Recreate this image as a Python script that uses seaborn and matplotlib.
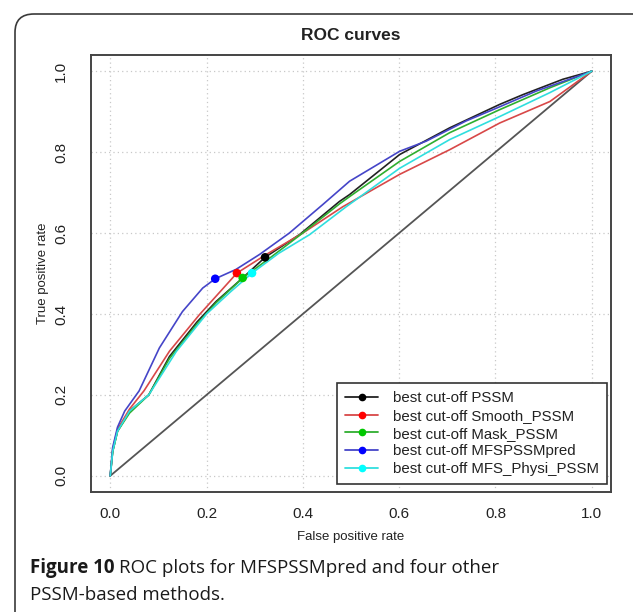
import numpy as np
import pandas as pd
import matplotlib
matplotlib.use("Agg")
import matplotlib.pyplot as plt
import seaborn as sns
from matplotlib.lines import Line2D
from matplotlib.patches import FancyBboxPatch

# ---------------- data ----------------
methods = ["PSSM", "Smooth_PSSM", "Mask_PSSM", "MFSPSSMpred", "MFS_Physi_PSSM"]

fpr_pssm = [0, 0.005, 0.015, 0.04, 0.08, 0.123, 0.18, 0.22, 0.275, 0.3215, 0.393, 0.476, 0.497, 0.601, 0.705, 0.809, 0.857, 0.94, 1.0]
tpr_pssm = [0, 0.06, 0.11, 0.16, 0.2, 0.295, 0.38, 0.431, 0.489, 0.54, 0.596, 0.678, 0.695, 0.794, 0.86, 0.918, 0.942, 0.98, 1.0]

fpr_smooth = [0, 0.005, 0.015, 0.04, 0.07, 0.123, 0.185, 0.263, 0.324, 0.40, 0.483, 0.601, 0.705, 0.809, 0.913, 1.0]
tpr_smooth = [0, 0.065, 0.115, 0.165, 0.21, 0.308, 0.398, 0.501, 0.547, 0.60, 0.665, 0.745, 0.806, 0.872, 0.925, 1.0]

fpr_mask = [0, 0.005, 0.015, 0.04, 0.08, 0.123, 0.18, 0.22, 0.275, 0.33, 0.393, 0.476, 0.497, 0.601, 0.705, 0.809, 0.913, 1.0]
tpr_mask = [0, 0.06, 0.11, 0.155, 0.2, 0.29, 0.375, 0.428, 0.489, 0.537, 0.594, 0.672, 0.69, 0.777, 0.848, 0.905, 0.959, 1.0]

fpr_mfs = [0, 0.005, 0.015, 0.03, 0.06, 0.102, 0.15, 0.192, 0.218, 0.261, 0.31, 0.372, 0.441, 0.497, 0.601, 0.656, 0.739, 0.795, 0.885, 0.982, 1.0]
tpr_mfs = [0, 0.07, 0.12, 0.16, 0.21, 0.316, 0.406, 0.464, 0.487, 0.51, 0.547, 0.60, 0.67, 0.728, 0.802, 0.827, 0.877, 0.905, 0.951, 0.992, 1.0]

fpr_physi = [0, 0.005, 0.015, 0.04, 0.08, 0.137, 0.2, 0.25, 0.2945, 0.35, 0.414, 0.49, 0.601, 0.705, 0.809, 0.913, 1.0]
tpr_physi = [0, 0.06, 0.11, 0.16, 0.2, 0.307, 0.4, 0.455, 0.501, 0.55, 0.596, 0.665, 0.76, 0.831, 0.888, 0.947, 1.0]

# best cut-off points (fpr, tpr) per method
cut_fpr = [0.3215, 0.263, 0.275, 0.218, 0.2945]
cut_tpr = [0.540, 0.501, 0.489, 0.487, 0.501]

diag_x = [0, 1]
diag_y = [0, 1]

ticks = [0.0, 0.2, 0.4, 0.6, 0.8, 1.0]
tick_labels = ["0.0", "0.2", "0.4", "0.6", "0.8", "1.0"]

line_colors = ["#222222", "#d84848", "#2fae2f", "#4545c8", "#30dede"]
dot_colors = ["#000000", "#ff0000", "#00c800", "#0000ff", "#00ffff"]

caption_bold = "Figure 10"
caption_line1 = "ROC plots for MFSPSSMpred and four other"
caption_line2 = "PSSM-based methods."

# ---------------- build frames ----------------
curves = [(fpr_pssm, tpr_pssm), (fpr_smooth, tpr_smooth), (fpr_mask, tpr_mask),
          (fpr_mfs, tpr_mfs), (fpr_physi, tpr_physi)]
rows = []
for m, (fx, ty) in zip(methods, curves):
    for a, b in zip(fx, ty):
        rows.append({"method": m, "fpr": a, "tpr": b})
df = pd.DataFrame(rows)
cut_df = pd.DataFrame({"method": methods, "fpr": cut_fpr, "tpr": cut_tpr})

# ---------------- figure ----------------
sns.set_theme(style="white")
plt.rcParams["font.family"] = ["Liberation Sans", "DejaVu Sans"]

W, H = 633, 612
fig = plt.figure(figsize=(W / 100, H / 100), dpi=100)
fig.patch.set_facecolor("white")

# outer rounded frame
frame = FancyBboxPatch((15 / W, -0.2), 1.2, (1 - 14 / H) + 0.2,
                       boxstyle="round,pad=0,rounding_size=0.03",
                       transform=fig.transFigure, fill=False,
                       edgecolor="#3a3a3a", linewidth=1.2, clip_on=False)
fig.patches.append(frame)

ax = fig.add_axes([91 / W, 1 - 492 / H, (611 - 91) / W, (492 - 55) / H])
ax.set_facecolor("white")

ax.grid(True, linestyle=(0, (1, 2.5)), color="#c8c8c8", linewidth=0.9)
ax.set_axisbelow(True)

ax.plot(diag_x, diag_y, color="#555555", linewidth=1.3, zorder=2)

sns.lineplot(data=df, x="fpr", y="tpr", hue="method", hue_order=methods,
             palette=dict(zip(methods, line_colors)), estimator=None,
             sort=False, units="method", legend=False, linewidth=1.2, ax=ax, zorder=3)

sns.scatterplot(data=cut_df, x="fpr", y="tpr", hue="method", hue_order=methods,
                palette=dict(zip(methods, dot_colors)), s=38, edgecolor="none",
                legend=False, ax=ax, zorder=5)

ax.set_xlim(-0.04, 1.04)
ax.set_ylim(-0.04, 1.04)
ax.set_xticks(ticks)
ax.set_xticklabels(tick_labels)
ax.set_yticks(ticks)
ax.set_yticklabels(tick_labels, rotation=90, va="center")

for s in ax.spines.values():
    s.set_color("#444444")
    s.set_linewidth(1.4)

ax.tick_params(axis="both", direction="out", length=6.5, width=1.2,
               color="#444444", labelsize=11, labelcolor="#222222")
ax.tick_params(axis="x", pad=4)
ax.tick_params(axis="y", pad=10)

ax.set_xlabel("False positive rate", fontsize=9.5, color="#222222")
ax.set_ylabel("True positive rate", fontsize=9.5, color="#222222")
ax.xaxis.label.set_va("center")
ax.yaxis.label.set_va("center")
ax.xaxis.set_label_coords(0.5, (492 - 537) / 437)
ax.yaxis.set_label_coords((43 - 91) / 520, 0.5)

ax.set_title("ROC curves", fontsize=12.5, fontweight="bold", color="#222222", pad=11)

handles = [Line2D([0], [0], color=lc, lw=1.3, marker="o", markersize=4.5,
                  markerfacecolor=dc, markeredgecolor=dc)
           for lc, dc in zip(line_colors, dot_colors)]
labels = ["best cut-off " + m for m in methods]
leg = ax.legend(handles, labels, loc="lower right", bbox_to_anchor=(0.992, 0.018),
                frameon=True, fancybox=False, fontsize=10.8, labelspacing=0.24,
                handlelength=2.2, handletextpad=0.95, borderpad=0.55,
                borderaxespad=0.0, framealpha=1.0)
leg.get_frame().set_edgecolor("#333333")
leg.get_frame().set_linewidth(1.2)
for t in leg.get_texts():
    t.set_color("#222222")

# caption
cap_font = ["Open Sans", "DejaVu Sans"]
y1 = 1 - 568 / H
y2 = 1 - 595 / H
tb = fig.text(30 / W, y1, caption_bold, fontsize=13.5, fontweight="bold",
              family=cap_font, va="center", ha="left", color="#1a1a1a")
fig.canvas.draw()
bb = tb.get_window_extent(renderer=fig.canvas.get_renderer())
x_after = (bb.x1 + 4.5) / W
fig.text(x_after, y1, caption_line1, fontsize=13.5, family=cap_font,
         va="center", ha="left", color="#1a1a1a")
fig.text(30 / W, y2, caption_line2, fontsize=13.5, family=cap_font,
         va="center", ha="left", color="#1a1a1a")

fig.savefig("out.png", dpi=100, facecolor="white")
